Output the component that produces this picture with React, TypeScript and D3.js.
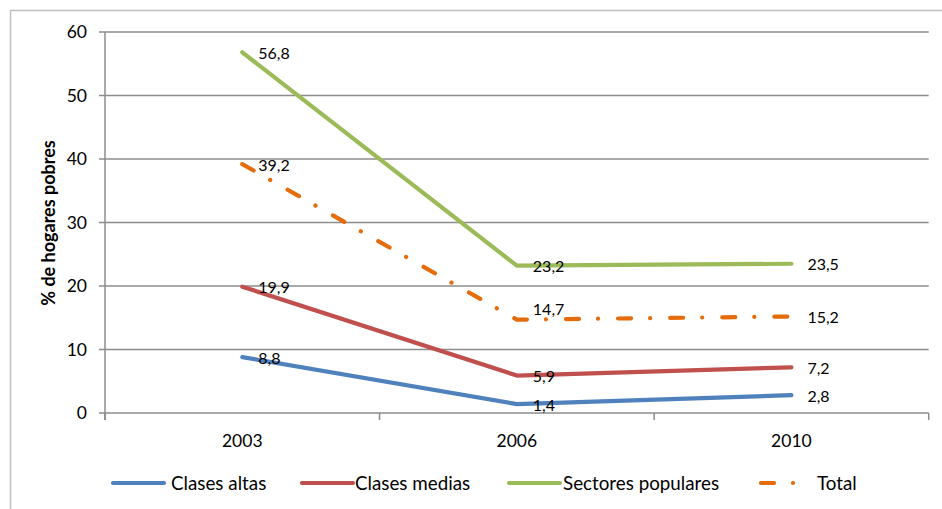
import React from "react";
import * as d3 from "d3";

const years = ["2003", "2006", "2010"];
const clasesAltas = [8.8, 1.4, 2.8];
const clasesMedias = [19.9, 5.9, 7.2];
const sectoresPopulares = [56.8, 23.2, 23.5];
const total = [39.2, 14.7, 15.2];
const yTicks = [0, 10, 20, 30, 40, 50, 60];

const seriesNames = ["Clases altas", "Clases medias", "Sectores populares", "Total"];
const seriesValues = [clasesAltas, clasesMedias, sectoresPopulares, total];
const colors = ["#4F81BD", "#C0504D", "#9BBB59", "#E46C0A"];

const W = 942;
const H = 509;
const FONT = "Lato, 'Open Sans', sans-serif";

export default function App() {
  const left = 105;
  const right = 928.7;
  const top = 32;
  const bottom = 413;

  const x = d3.scaleBand<string>().domain(years).range([left, right]).padding(0);
  const y = d3.scaleLinear().domain([0, 60]).range([bottom, top]);
  const cx = (yr: string) => (x(yr) as number) + x.bandwidth() / 2;

  const line = d3
    .line<number>()
    .x((_, i) => cx(years[i]))
    .y((v) => y(v));

  const grid = "#8C8C8C";
  const dash = "13 19 0.1 20";

  const legendX = [113, 302, 509, 761];
  const legendTextX = [171, 355, 563, 817];
  const legendY = 483;

  const tickXs = [...years.map((yr) => x(yr) as number), right];

  return (
    <svg
      width={W}
      height={H}
      style={{ position: "absolute", left: 0, top: 0, background: "#fff" }}
      fontFamily={FONT}
    >
      <rect x={0} y={0} width={W} height={H} fill="#fff" />
      <rect x={10.5} y={10.5} width={W + 20} height={H + 20} fill="none" stroke="#BFBFBF" strokeWidth={1.5} />

      {yTicks.map((t) => (
        <g key={t}>
          <line x1={99} x2={right} y1={y(t)} y2={y(t)} stroke={grid} strokeWidth={1.5} />
          <text x={87} y={y(t)} dy="0.35em" textAnchor="end" fontSize={17.5} fill="#000">
            {t}
          </text>
        </g>
      ))}
      <line x1={left} x2={left} y1={top} y2={bottom + 7} stroke={grid} strokeWidth={1.5} />
      {tickXs.map((tx, i) => (
        <line key={i} x1={tx} x2={tx} y1={bottom} y2={bottom + 7} stroke={grid} strokeWidth={1.5} />
      ))}
      {years.map((yr) => (
        <text key={yr} x={cx(yr)} y={441} dy="0.35em" textAnchor="middle" fontSize={17.5} fill="#000">
          {yr}
        </text>
      ))}

      <text
        transform={`translate(49,223) rotate(-90)`}
        textAnchor="middle"
        dy="0.35em"
        fontSize={18}
        fontWeight="bold"
        fill="#000"
      >
        % de hogares pobres
      </text>

      {seriesValues.map((vals, si) => (
        <path
          key={si}
          d={line(vals) as string}
          fill="none"
          stroke={colors[si]}
          strokeWidth={4.2}
          strokeLinecap="round"
          strokeLinejoin="round"
          strokeDasharray={si === 3 ? dash : undefined}
        />
      ))}

      {seriesValues.map((vals, si) =>
        vals.map((v, i) => (
          <text
            key={`${si}-${i}`}
            x={cx(years[i]) + 16}
            y={y(v) + (si === 3 && i === 1 ? -10 : 1)}
            dy="0.35em"
            fontSize={16}
            fill="#000"
          >
            {v.toFixed(1).replace(".", ",")}
          </text>
        ))
      )}

      {seriesNames.map((name, si) => (
        <g key={name}>
          <line
            x1={legendX[si]}
            x2={legendX[si] + 51}
            y1={legendY}
            y2={legendY}
            stroke={colors[si]}
            strokeWidth={4.2}
            strokeLinecap="round"
            strokeDasharray={si === 3 ? dash : undefined}
          />
          <text x={legendTextX[si]} y={legendY} dy="0.35em" fontSize={18.8} fill="#000">
            {name}
          </text>
        </g>
      ))}
    </svg>
  );
}
